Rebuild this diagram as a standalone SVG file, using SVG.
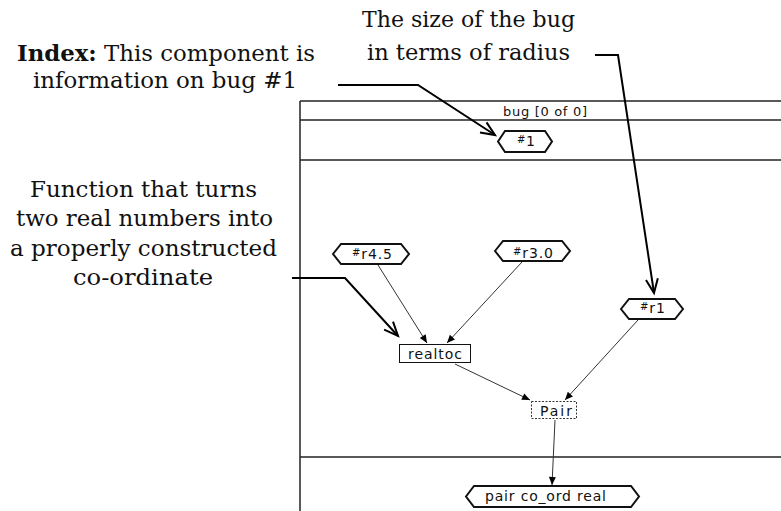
<svg xmlns="http://www.w3.org/2000/svg" width="781" height="511" viewBox="0 0 781 511">
  <style>
    .note { font-family: "DejaVu Serif", "Liberation Serif", serif; font-size: 22px; fill: #111; }
    .note-b { font-weight: bold; }
    .lbl { font-family: "DejaVu Sans", "Liberation Sans", sans-serif; font-size: 14px; fill: #111; }
    .hdr { font-family: "DejaVu Sans", "Liberation Sans", sans-serif; font-size: 13px; fill: #111; }
    .hash { font-size: 10px; }
    .frame { stroke: #222; stroke-width: 1.5; fill: none; }
    .hex { fill: #fff; stroke: #111; stroke-width: 2; }
    .box { fill: #fff; stroke: #111; stroke-width: 1; }
    .box-dash { fill: #fff; stroke: #333; stroke-width: 1; stroke-dasharray: 2 1.5; }
    .wire { stroke: #333; stroke-width: 1; fill: none; marker-end: url(#tip); }
    .callout { stroke: #000; stroke-width: 2; fill: none; marker-end: url(#vee); }
  </style>
  <defs>
    <marker id="tip" markerUnits="userSpaceOnUse" markerWidth="9" markerHeight="8" refX="8" refY="3.5" orient="auto" overflow="visible">
      <path d="M0,0 L8,3.5 L0,7 Z" fill="#000"/>
    </marker>
    <marker id="vee" markerUnits="userSpaceOnUse" markerWidth="16" markerHeight="14" refX="14" refY="6" orient="auto" overflow="visible">
      <path d="M0,0 L14,6 L0,12" fill="none" stroke="#000" stroke-width="2"/>
    </marker>
  </defs>

  <rect width="781" height="511" fill="#fff"/>

  <!-- component frame -->
  <g id="frame">
    <line class="frame" x1="300" y1="101" x2="781" y2="101"/>
    <line class="frame" x1="300" y1="120" x2="781" y2="120"/>
    <line class="frame" x1="300" y1="160" x2="781" y2="160"/>
    <line class="frame" x1="300" y1="457" x2="781" y2="457"/>
    <line class="frame" x1="300" y1="101" x2="300" y2="511"/>
    <text class="hdr" x="503" y="116" textLength="84">bug [0 of 0]</text>
  </g>

  <!-- explanatory notes -->
  <g id="note-index">
    <text class="note" x="17" y="61" textLength="298" lengthAdjust="spacingAndGlyphs"><tspan class="note-b">Index:</tspan>  This component is</text>
    <text class="note" x="33" y="88" textLength="264" lengthAdjust="spacingAndGlyphs">information on bug #1</text>
  </g>
  <g id="note-size">
    <text class="note" x="362" y="27" textLength="213" lengthAdjust="spacingAndGlyphs">The size of the bug</text>
    <text class="note" x="367" y="60" textLength="203" lengthAdjust="spacingAndGlyphs">in terms of radius</text>
  </g>
  <g id="note-function">
    <text class="note" x="30" y="197" textLength="227" lengthAdjust="spacingAndGlyphs">Function that turns</text>
    <text class="note" x="16" y="226" textLength="257" lengthAdjust="spacingAndGlyphs">two real numbers into</text>
    <text class="note" x="10" y="256" textLength="267" lengthAdjust="spacingAndGlyphs">a properly constructed</text>
    <text class="note" x="73" y="285" textLength="140" lengthAdjust="spacingAndGlyphs">co-ordinate</text>
  </g>

  <!-- connectors -->
  <g id="connectors">
    <line class="wire" x1="378" y1="265" x2="427" y2="343"/>
    <line class="wire" x1="522" y1="262" x2="447" y2="343"/>
    <line class="wire" x1="455" y1="364" x2="530" y2="400"/>
    <line class="wire" x1="638" y1="320" x2="565" y2="400"/>
    <line class="wire" x1="555" y1="420" x2="552" y2="485"/>
    <polyline class="callout" points="338,85 418,85 495,135"/>
    <polyline class="callout" points="595,55 618,55 654,293"/>
    <polyline class="callout" points="292,278 345,278 398,336"/>
  </g>

  <!-- nodes -->
  <g id="node-index">
    <path class="hex" d="M498,141.5 L505,131 L545,131 L552,141.5 L545,152 L505,152 Z"/>
    <text class="lbl" x="517" y="146" textLength="18"><tspan class="hash" dy="-3">#</tspan><tspan dy="3">1</tspan></text>
  </g>
  <g id="node-r45">
    <path class="hex" d="M333,254 L341,244 L401,244 L409,254 L401,264 L341,264 Z"/>
    <text class="lbl" x="352" y="259" textLength="40"><tspan class="hash" dy="-3">#</tspan><tspan dy="3">r4.5</tspan></text>
  </g>
  <g id="node-r30">
    <path class="hex" d="M495,251 L503,241 L562,241 L570,251 L562,261 L503,261 Z"/>
    <text class="lbl" x="513" y="258" textLength="40"><tspan class="hash" dy="-3">#</tspan><tspan dy="3">r3.0</tspan></text>
  </g>
  <g id="node-r1">
    <path class="hex" d="M621,309 L629,299 L675,299 L683,309 L675,319 L629,319 Z"/>
    <text class="lbl" x="640" y="313" textLength="25"><tspan class="hash" dy="-3">#</tspan><tspan dy="3">r1</tspan></text>
  </g>
  <g id="node-realtoc">
    <rect class="box" x="399.5" y="344.5" width="71" height="18"/>
    <text class="lbl" x="408" y="359" textLength="54">realtoc</text>
  </g>
  <g id="node-pair">
    <rect class="box-dash" x="531.5" y="401.5" width="45" height="17"/>
    <text class="lbl" x="540" y="416" textLength="32">Pair</text>
  </g>
  <g id="node-output">
    <path class="hex" d="M466,496.5 L474,486 L631,486 L639,496.5 L631,507 L474,507 Z"/>
    <text class="lbl" x="485" y="501" textLength="121">pair co_ord real</text>
  </g>
</svg>
